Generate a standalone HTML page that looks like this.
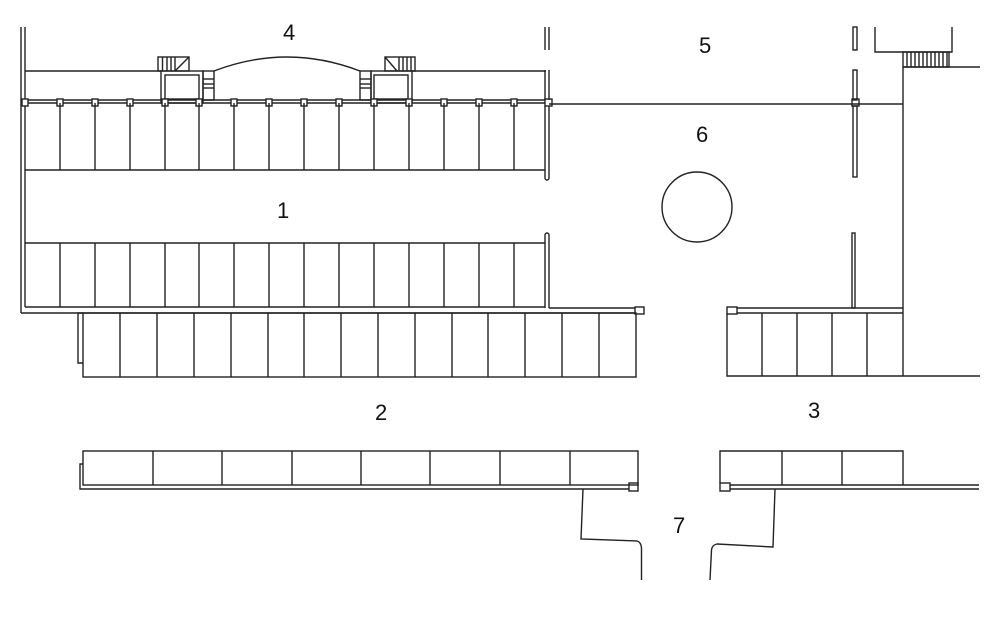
<!DOCTYPE html>
<html><head><meta charset="utf-8"><style>
html,body{margin:0;padding:0;background:#fff;}
svg{display:block;}
text{font-family:"Liberation Sans",Arial,sans-serif;font-size:22px;fill:#111;}
</style></head><body>
<svg width="993" height="627" viewBox="0 0 993 627" xmlns="http://www.w3.org/2000/svg">
<g fill="none" stroke="#222" stroke-width="1.4">
<line x1="21" y1="27" x2="21" y2="313"/>
<line x1="25" y1="27" x2="25" y2="307"/>
<line x1="25" y1="71" x2="161" y2="71"/>
<line x1="412" y1="71" x2="546" y2="71"/>
<line x1="21" y1="100" x2="549" y2="100"/>
<line x1="21" y1="103" x2="549" y2="103"/>
<rect x="158" y="57" width="31" height="14"/>
<line x1="162.5" y1="57" x2="162.5" y2="71"/><line x1="167" y1="57" x2="167" y2="71"/><line x1="171" y1="57" x2="171" y2="71"/><line x1="175" y1="57" x2="175" y2="71"/>
<line x1="175" y1="71" x2="189" y2="57"/>
<rect x="161" y="71" width="42" height="32"/>
<rect x="165" y="75" width="34" height="24"/>
<rect x="203" y="71" width="11" height="29"/>
<line x1="203" y1="79" x2="214" y2="79"/><line x1="203" y1="84" x2="214" y2="84"/><line x1="203" y1="88" x2="214" y2="88"/>
<path d="M214 71 Q287 43 360 71"/>
<rect x="360" y="71" width="11" height="29"/>
<line x1="360" y1="79" x2="371" y2="79"/><line x1="360" y1="84" x2="371" y2="84"/><line x1="360" y1="88" x2="371" y2="88"/>
<rect x="371" y="71" width="41" height="32"/>
<rect x="374" y="75" width="34" height="24"/>
<rect x="385" y="57" width="30" height="14"/>
<line x1="385" y1="57" x2="397" y2="71"/>
<line x1="399" y1="57" x2="399" y2="71"/><line x1="403" y1="57" x2="403" y2="71"/><line x1="407" y1="57" x2="407" y2="71"/><line x1="411" y1="57" x2="411" y2="71"/>
<g fill="#fff">
<rect x="22" y="99" width="6" height="7"/><rect x="57" y="99" width="6" height="7"/><rect x="92" y="99" width="6" height="7"/><rect x="127" y="99" width="6" height="7"/><rect x="162" y="99" width="6" height="7"/><rect x="196" y="99" width="6" height="7"/><rect x="231" y="99" width="6" height="7"/><rect x="266" y="99" width="6" height="7"/><rect x="301" y="99" width="6" height="7"/><rect x="336" y="99" width="6" height="7"/><rect x="371" y="99" width="6" height="7"/><rect x="406" y="99" width="6" height="7"/><rect x="441" y="99" width="6" height="7"/><rect x="476" y="99" width="6" height="7"/><rect x="511" y="99" width="6" height="7"/><rect x="545" y="99" width="7" height="7"/>
<rect x="852" y="99" width="7" height="7"/>
</g>
<line x1="25" y1="170" x2="545" y2="170"/>
<path d="M60 103V170M95 103V170M130 103V170M165 103V170M199 103V170M234 103V170M269 103V170M304 103V170M339 103V170M374 103V170M409 103V170M444 103V170M479 103V170M514 103V170"/>
<line x1="25" y1="243" x2="545" y2="243"/>
<path d="M60 243V307M95 243V307M130 243V307M165 243V307M199 243V307M234 243V307M269 243V307M304 243V307M339 243V307M374 243V307M409 243V307M444 243V307M479 243V307M514 243V307"/>
<line x1="25" y1="307" x2="545" y2="307"/>
<line x1="21" y1="313" x2="545" y2="313"/>
<path d="M545 27V50M549 27V50"/>
<path d="M545 70V100M549 70V100"/>
<path d="M545 106V178a2 2 0 0 0 4 0V106"/>
<path d="M545 308V235a2 2 0 0 1 4 0V308"/>
<line x1="549" y1="308" x2="635" y2="308"/>
<line x1="545" y1="313" x2="635" y2="313"/>
<rect x="635" y="307" width="9" height="7"/>
<rect x="83" y="313" width="553" height="64"/>
<path d="M83 313H78V363H83"/>
<path d="M120 313V377M157 313V377M194 313V377M231 313V377M268 313V377M304 313V377M341 313V377M378 313V377M415 313V377M452 313V377M488 313V377M525 313V377M562 313V377M599 313V377"/>
<line x1="549" y1="104" x2="903" y2="104"/>
<rect x="853" y="27" width="4" height="23"/>
<rect x="853" y="70" width="4" height="30"/>
<rect x="853" y="106" width="4" height="71"/>
<rect x="852" y="233" width="3" height="75"/>
<path d="M875 27V52H952V27"/>
<rect x="903" y="52" width="46" height="15"/>
<path d="M907 52V67M911 52V67M915 52V67M919 52V67M923 52V67M927 52V67M931 52V67M935 52V67M939 52V67M943 52V67M947 52V67"/>
<line x1="903" y1="67" x2="980" y2="67"/>
<line x1="903" y1="67" x2="903" y2="376"/>
<circle cx="697" cy="207" r="35"/>
<rect x="727" y="307" width="10" height="7"/>
<line x1="737" y1="308" x2="903" y2="308"/>
<line x1="737" y1="313" x2="903" y2="313"/>
<path d="M727 314V376H980M762 313V376M797 313V376M832 313V376M867 313V376"/>
<rect x="83" y="451" width="555" height="34"/>
<path d="M153 451V485M222 451V485M292 451V485M361 451V485M430 451V485M500 451V485M570 451V485"/>
<path d="M83 464H80V489H629"/>
<rect x="629" y="483" width="9" height="8"/>
<path d="M583 489L581 539L637 541Q641 542 641.5 548L641.5 580"/>
<path d="M720 483V451H903V485M782 451V485M842 451V485"/>
<line x1="730" y1="485" x2="979" y2="485"/>
<line x1="730" y1="489" x2="979" y2="489"/>
<rect x="720" y="483" width="10" height="8"/>
<path d="M775 489L773 547L717 544Q712 545 711.5 550L710 580"/>
</g>
<text x="283" y="40">4</text>
<text x="699" y="53">5</text>
<text x="696" y="142">6</text>
<text x="277" y="218">1</text>
<text x="375" y="420">2</text>
<text x="808" y="418">3</text>
<text x="673" y="533">7</text>
</svg>
</body></html>
